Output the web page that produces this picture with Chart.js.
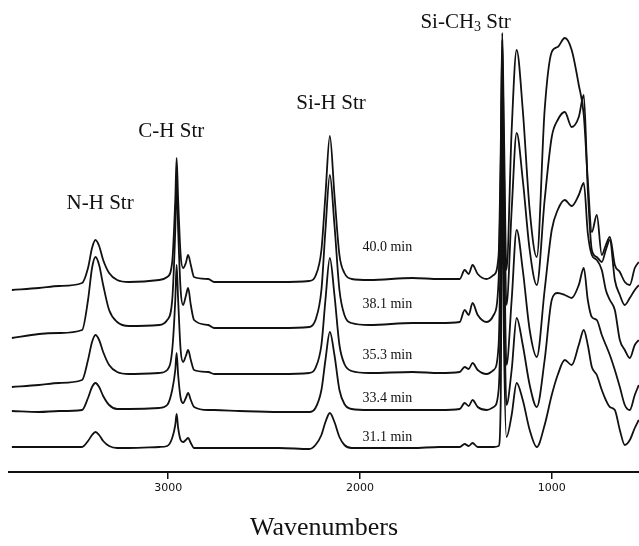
<!DOCTYPE html>
<html><head><meta charset="utf-8">
<script src="https://cdn.jsdelivr.net/npm/chart.js@4/dist/chart.umd.min.js"></script>
<style>html,body{margin:0;padding:0;background:#fff}#wrap{width:639px;height:546px;position:relative}</style>
</head><body><div id="wrap"><canvas id="c" width="639" height="546"></canvas></div>
<script>
// Wavenumber grid (cm-1), shared by all spectra
const wavenumbers = [3815,3674,3569,3449,3418,3397,3379,3360,3339,3308,3266,3204,3047,3005,2979,2963,2956,2948,2935,2922,2908,2896,2882,2865,2791,2760,2629,2420,2264,2232,2201,2180,2157,2133,2107,2081,2044,1950,1726,1585,1480,1454,1433,1413,1386,1339,1303,1277,1266,1258,1250,1236,1209,1183,1151,1115,1078,1037,1000,969,932,896,859,833,812,791,765,739,718,697,671,645,619,593,567,546];

// Offset absorbance (a.u.), stacked spectra
const spec40_0 = [182,184,186,189,204,224,232,226,212,199,192,190,192,195,210,272,314,272,217,204,209,217,207,195,193,190,190,190,191,196,222,277,336,277,217,199,193,192,194,193,193,202,198,207,198,193,197,217,322,439,352,202,342,422,362,262,215,362,420,425,434,422,387,357,292,240,257,217,227,235,207,200,190,187,204,210];
const spec38_1 = [134,138,139,142,172,204,215,207,187,162,150,146,147,152,172,242,292,242,182,167,176,184,167,152,147,144,144,144,145,152,182,242,297,247,182,157,149,147,149,149,150,162,157,169,157,150,157,192,302,432,322,167,262,339,292,222,187,272,335,352,360,345,355,377,282,222,215,210,222,232,192,177,167,174,182,187];
const spec35_3 = [85,87,89,92,112,130,137,132,120,107,100,98,99,102,122,172,207,172,122,110,116,122,112,102,100,98,98,98,99,104,127,172,214,177,127,108,101,99,100,99,100,105,103,109,102,98,102,127,242,412,272,107,172,242,202,142,115,182,242,262,272,266,277,289,239,217,212,202,182,172,162,132,122,114,127,132];
const spec33_4 = [61,60,61,62,74,85,89,85,76,67,63,63,64,67,82,102,119,97,74,69,74,79,72,65,62,62,61,60,60,64,82,112,140,117,82,68,63,62,62,62,63,69,66,72,65,62,65,82,172,372,212,67,102,154,127,87,65,112,172,179,177,174,187,204,172,155,152,137,127,117,102,85,67,62,77,87];
const spec31_1 = [25,25,25,25,31,37,40,37,31,26,24,24,25,26,34,47,58,44,32,30,32,34,29,24,24,24,24,24,23,27,37,50,59,50,35,27,24,24,24,25,25,28,26,29,25,25,25,26,72,322,142,35,57,89,72,42,25,47,77,97,112,107,127,142,127,105,97,82,72,65,62,42,27,32,44,52];

const seriesNames = ['40.0 min','38.1 min','35.3 min','33.4 min','31.1 min'];
const xTickValues = [3000, 2000, 1000];
const bandNames = ['N-H Str','C-H Str','Si-H Str','Si-CH|3| Str'];

// Annotation anchors (data coordinates), separate from data
const bandAnchorX = [3355, 2984, 2151, 1449];
const bandAnchorY = [269, 341, 369, 450];
const timeLabelX = 1987;
const timeLabelY = [225, 168, 117, 74, 35];

const allSeries = [spec40_0, spec38_1, spec35_3, spec33_4, spec31_1];
const datasets = allSeries.map((s, k) => ({
  label: seriesNames[k],
  data: s.map((v, i) => ({x: wavenumbers[i], y: v})),
  borderColor: '#111',
  borderWidth: 1.8,
  pointRadius: 0,
  fill: false,
  cubicInterpolationMode: 'monotone'
}));

const SERIF = '"Liberation Serif", "Times New Roman", serif';

const annot = {
  id: 'annot',
  afterDatasetsDraw(chart) {
    const {ctx, scales: {x, y}} = chart;
    ctx.save();
    ctx.fillStyle = '#111';
    ctx.textBaseline = 'middle';
    bandNames.forEach((name, i) => {
      const cx = x.getPixelForValue(bandAnchorX[i]);
      const cy = y.getPixelForValue(bandAnchorY[i]);
      const parts = name.split('|');
      const big = '21px ' + SERIF, small = '14px ' + SERIF;
      let total = 0;
      const widths = parts.map((p, j) => { ctx.font = (j % 2 ? small : big); const w = ctx.measureText(p).width; total += w; return w; });
      let px = cx - total / 2;
      ctx.textAlign = 'left';
      parts.forEach((p, j) => {
        ctx.font = (j % 2 ? small : big);
        ctx.fillText(p, px, cy + (j % 2 ? 5 : 0));
        px += widths[j];
      });
    });
    ctx.font = '14px ' + SERIF;
    ctx.textAlign = 'left';
    seriesNames.forEach((n, i) => {
      ctx.fillText(n, x.getPixelForValue(timeLabelX), y.getPixelForValue(timeLabelY[i]));
    });
    ctx.restore();
  }
};

new Chart(document.getElementById('c'), {
  type: 'line',
  data: {datasets},
  options: {
    responsive: false,
    animation: false,
    devicePixelRatio: 1,
    layout: {padding: {left: 9, right: 0, top: 0, bottom: 0}},
    plugins: {legend: {display: false}, tooltip: {enabled: false}},
    scales: {
      x: {
        type: 'linear', reverse: true, min: 545, max: 3830,
        afterBuildTicks: s => { s.ticks = xTickValues.map(v => ({value: v})); },
        afterFit: s => { s.height = 74; },
        ticks: {font: {family: 'DejaVu Sans', size: 11}, color: '#111', padding: 3, maxRotation: 0, autoSkip: false,
                callback: v => String(v)},
        grid: {display: true, drawOnChartArea: false, drawTicks: true, tickLength: 7, color: '#111', lineWidth: 1.5},
        border: {display: true, color: '#111', width: 2},
        title: {display: true, text: 'Wavenumbers', font: {family: 'Liberation Serif', size: 26}, color: '#111', padding: {top: 0, bottom: 2}}
      },
      y: {type: 'linear', display: false, min: 0, max: 472}
    }
  },
  plugins: [annot]
});
</script>
</body></html>
